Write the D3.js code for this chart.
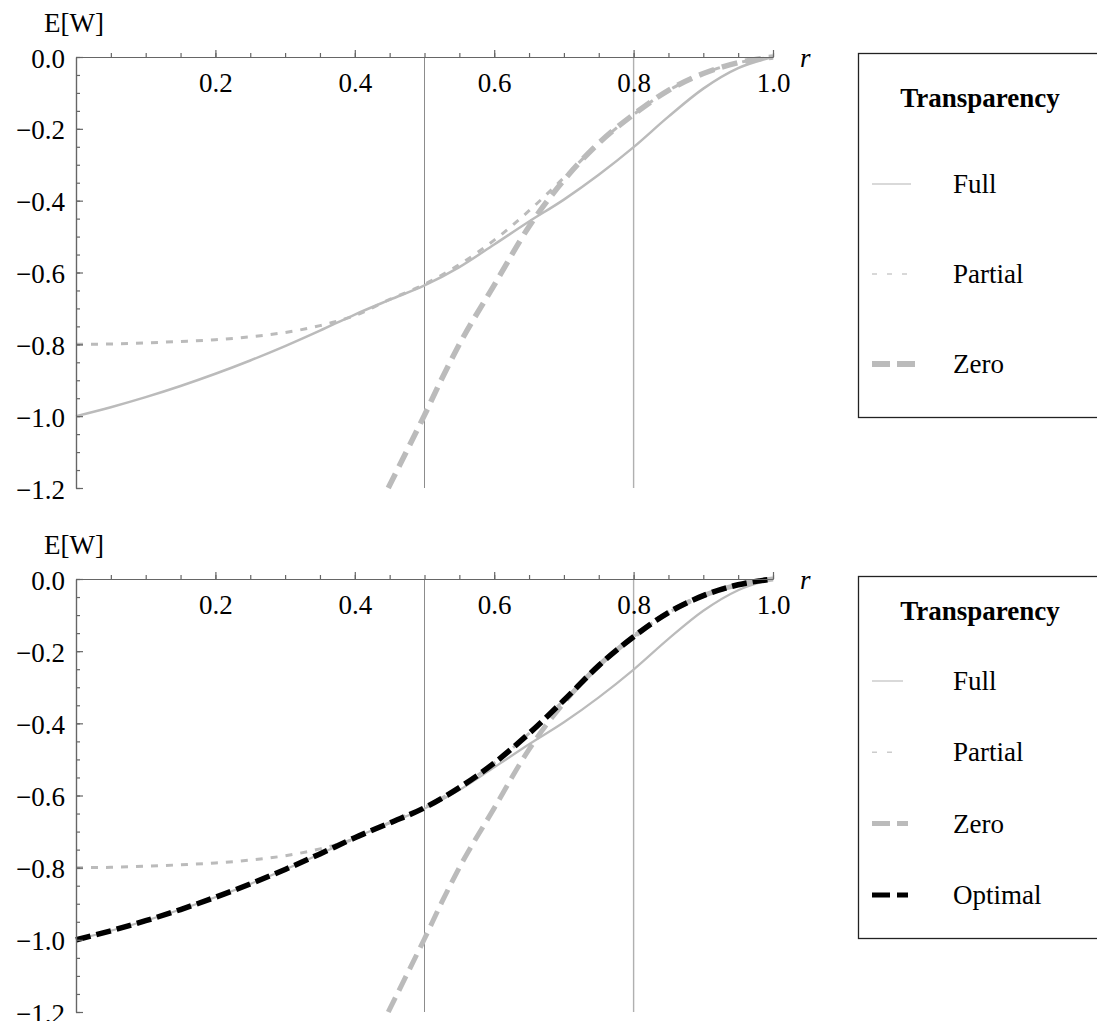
<!DOCTYPE html>
<html>
<head>
<meta charset="utf-8">
<script src="https://cdn.jsdelivr.net/npm/d3@7"></script>
<style>
  html, body { margin: 0; padding: 0; background: #fff; }
  svg { display: block; }
  svg text { font-family: "Liberation Serif", "DejaVu Serif", serif; }
</style>
</head>
<body>
<script>
// ---------------- DATA ----------------
const rGrid = [0, 0.05, 0.1, 0.15, 0.2, 0.25, 0.3, 0.35, 0.4, 0.45, 0.5,
               0.55, 0.6, 0.65, 0.7, 0.75, 0.8, 0.85, 0.9, 0.95, 1.0];
const fullValues = [-1.000, -0.975, -0.947, -0.916, -0.882, -0.845, -0.805, -0.762, -0.717, -0.676, -0.636,
                    -0.585, -0.522, -0.458, -0.397, -0.328, -0.251, -0.166, -0.088, -0.031, 0.000];
const partialValues = [-0.800, -0.799, -0.796, -0.792, -0.787, -0.779, -0.767, -0.748, -0.720, -0.675, -0.633,
                       -0.578, -0.510, -0.428, -0.336, -0.240, -0.160, -0.093, -0.046, -0.016, 0.000];
const zeroR = [0.448, 0.475, 0.5, 0.525, 0.55, 0.6, 0.65, 0.7, 0.75, 0.8, 0.85, 0.9, 0.95, 1.0];
const zeroValues = [-1.200, -1.095, -0.997, -0.895, -0.800, -0.635, -0.472, -0.343, -0.240, -0.160, -0.093, -0.046, -0.016, 0.000];
const optimalValues = [-1.000, -0.975, -0.947, -0.916, -0.882, -0.845, -0.805, -0.762, -0.717, -0.676, -0.634,
                       -0.578, -0.510, -0.428, -0.336, -0.240, -0.160, -0.093, -0.046, -0.016, 0.000];
const xTickLabels = [0.2, 0.4, 0.6, 0.8, 1.0];
const yTickLabels = [0, -0.2, -0.4, -0.6, -0.8, -1.0, -1.2];
const markerLines = [0.5, 0.8];
const legendTitle = "Transparency";
const topSeries = ["Full", "Partial", "Zero"];
const bottomSeries = ["Full", "Partial", "Zero", "Optimal"];

// ---------------- LAYOUT ----------------
const FONT = "'Liberation Serif', 'DejaVu Serif', serif";
const W = 1097, H = 1021;
const svg = d3.select("body").append("svg").attr("width", W).attr("height", H);
const x = d3.scaleLinear().domain([0, 1]).range([76, 773]);

const styles = {
  Full:    { stroke: "#bbbbbb", width: 2.5, dash: null },
  Partial: { stroke: "#bbbbbb", width: 3,   dash: "7,8" },
  Zero:    { stroke: "#bbbbbb", width: 5.5, dash: "16,8" },
  Optimal: { stroke: "#000000", width: 5.5, dash: "15,6" }
};

function seriesPoints(name) {
  if (name === "Full") return rGrid.map((r, i) => [r, fullValues[i]]);
  if (name === "Partial") return rGrid.map((r, i) => [r, partialValues[i]]);
  if (name === "Zero") return zeroR.map((r, i) => [r, zeroValues[i]]);
  return rGrid.map((r, i) => [r, optimalValues[i]]);
}

const minorVals = d3.range(1, 21).map(i => +(i * 0.05).toFixed(2));
const yMinorVals = d3.range(0, 25).map(i => +(-i * 0.05).toFixed(2));

function panel(cfg) {
  const y = d3.scaleLinear().domain([0, -1.2]).range([cfg.y0, cfg.y1]);
  const g = svg.append("g");

  // marker vertical lines
  g.selectAll("line.marker").data(markerLines).enter().append("line")
    .attr("x1", d => x(d)).attr("x2", d => x(d))
    .attr("y1", y(0)).attr("y2", y(-1.2))
    .attr("stroke", (d, i) => i === 0 ? "#8c8c8c" : "#b0b0b0")
    .attr("stroke-width", (d, i) => i === 0 ? 1 : 1.4);

  // curves
  const line = d3.line().x(d => x(d[0])).y(d => y(d[1])).curve(d3.curveMonotoneX);
  cfg.series.forEach(name => {
    const s = styles[name];
    const w = (cfg.widths && cfg.widths[name]) || s.width;
    g.append("path")
      .datum(seriesPoints(name))
      .attr("d", line)
      .attr("fill", "none")
      .attr("stroke", s.stroke)
      .attr("stroke-width", w)
      .attr("stroke-dasharray", s.dash);
  });

  // x axis
  const axisColor = "#666";
  const xMinor = g.append("g").attr("transform", `translate(0,${y(0)})`)
    .call(d3.axisBottom(x).tickValues(minorVals).tickSizeInner(-4).tickSizeOuter(0).tickFormat(""));
  const xMajor = g.append("g").attr("transform", `translate(0,${y(0)})`)
    .call(d3.axisBottom(x).tickValues(xTickLabels).tickSizeInner(-7).tickSizeOuter(0).tickPadding(16).tickFormat(d3.format(".1f")));
  [xMinor, xMajor].forEach(a => {
    a.attr("font-family", FONT);
    a.selectAll("path,line").attr("stroke", axisColor).attr("stroke-width", 1.2);
  });
  xMajor.selectAll("text").attr("font-size", 27).attr("fill", "#000").attr("font-family", FONT);

  // y axis
  const yMinor = g.append("g").attr("transform", `translate(${x(0)},0)`)
    .call(d3.axisLeft(y).tickValues(yMinorVals).tickSizeInner(-4).tickSizeOuter(0).tickFormat(""));
  const yMajor = g.append("g").attr("transform", `translate(${x(0)},0)`)
    .call(d3.axisLeft(y).tickValues(yTickLabels).tickSizeInner(-7).tickSizeOuter(0).tickPadding(11).tickFormat(d3.format(".1f")));
  [yMinor, yMajor].forEach(a => {
    a.attr("font-family", FONT);
    a.selectAll("path,line").attr("stroke", axisColor).attr("stroke-width", 1.2);
  });
  yMajor.selectAll("text").attr("font-size", 27).attr("fill", "#000").attr("dy", "0.37em").attr("font-family", FONT);

  // axis labels
  g.append("text").attr("x", 74).attr("y", y(0) - 25.5).attr("font-family", FONT)
    .attr("text-anchor", "middle").attr("font-size", 27).text("E[W]");
  g.append("text").attr("x", 800).attr("y", y(0) + 9.5).attr("font-family", FONT)
    .attr("font-size", 27).attr("font-style", "italic").text("r");

  // legend
  const L = cfg.legend;
  g.append("rect").attr("x", 858.5).attr("y", L.top + 0.5).attr("width", 400).attr("height", L.height)
    .attr("fill", "#fff").attr("stroke", "#222").attr("stroke-width", 1.3);
  g.append("text").attr("x", 980).attr("y", L.title).attr("text-anchor", "middle").attr("font-family", FONT)
    .attr("font-size", 27).attr("font-weight", "bold").text(legendTitle);
  cfg.series.forEach((name, i) => {
    const by = L.first + i * L.step;
    const sm = L.samples[name];
    g.append("line").attr("x1", 872).attr("x2", 872 + sm.len)
      .attr("y1", by - 9).attr("y2", by - 9)
      .attr("stroke", sm.color).attr("stroke-width", sm.width)
      .attr("stroke-dasharray", sm.dash);
    g.append("text").attr("x", 953).attr("y", by).attr("font-family", FONT).attr("font-size", 27).text(name);
  });
}

panel({
  y0: 57, y1: 488,
  series: topSeries,
  legend: {
    top: 53, height: 364, title: 107, first: 193, step: 90,
    samples: {
      Full: { len: 39, color: "#cccccc", width: 1.5, dash: null },
      Partial: { len: 35, color: "#cccccc", width: 1.5, dash: "5,10" },
      Zero: { len: 44, color: "#bbbbbb", width: 6, dash: "18,7" }
    }
  }
});

panel({
  y0: 579, y1: 1012,
  series: bottomSeries,
  widths: { Full: 2.2, Zero: 5 },
  legend: {
    top: 576, height: 362, title: 620, first: 690, step: 71.3,
    samples: {
      Full: { len: 31, color: "#cccccc", width: 1.5, dash: null },
      Partial: { len: 20, color: "#cccccc", width: 1.5, dash: "5,10" },
      Zero: { len: 36, color: "#bbbbbb", width: 5, dash: "18,7" },
      Optimal: { len: 36, color: "#000000", width: 5, dash: "18,7" }
    }
  }
});
</script>
</body>
</html>
